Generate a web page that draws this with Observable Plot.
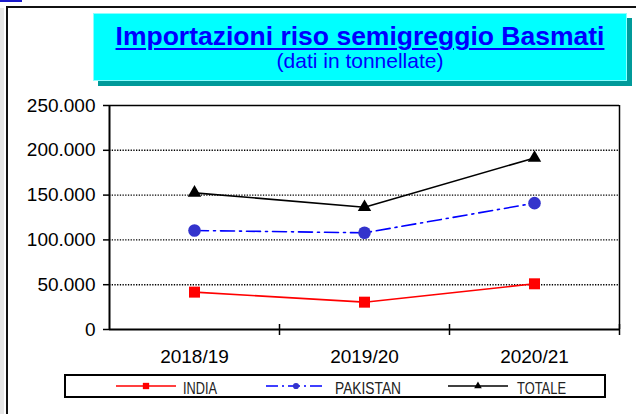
<!DOCTYPE html>
<html>
<head>
<meta charset="utf-8">
<script src="https://cdn.jsdelivr.net/npm/d3@7"></script>
<script src="https://cdn.jsdelivr.net/npm/@observablehq/plot@0.6"></script>
<style>
  html, body { margin: 0; padding: 0; background: #fff; }
  #wrap { position: relative; width: 636px; height: 414px; overflow: hidden; font-family: Arial, "Liberation Sans", sans-serif; }
  #frame { position: absolute; left: 6px; top: 6px; width: 700px; height: 500px; border-left: 2px solid #111; border-top: 2px solid #111; }
  #strip { position: absolute; left: 0; top: 8px; width: 4px; height: 420px; background: #e6e6e6; }
  #link { position: absolute; left: 0; top: 0; width: 22px; height: 2px; background: #1a1acc; }
  #titlebox { position: absolute; left: 93px; top: 13px; width: 532px; height: 66px; background: #00ffff; border: 1px solid #8affff; box-shadow: 5px 5px 0 #009a9a; text-align: center; color: #0000ff; }
  #title { position: absolute; left: 0; right: 0; top: 7px; font-size: 26.5px; font-weight: bold; text-decoration: underline; text-decoration-thickness: 2px; text-underline-offset: 3px; line-height: 30px; white-space: nowrap; }
  #subtitle { position: absolute; left: 0; right: 0; top: 35px; font-size: 21px; line-height: 24px; white-space: nowrap; }
  #chart { position: absolute; left: 0; top: 0; }
  #legend { position: absolute; left: 0; top: 0; }
</style>
</head>
<body>
<div id="wrap">
  <div id="strip"></div>
  <div id="link"></div>
  <div id="frame"></div>
  <div id="titlebox">
    <div id="title">Importazioni riso semigreggio Basmati</div>
    <div id="subtitle">(dati in tonnellate)</div>
  </div>
  <div id="chart"></div>
  <div id="legend"></div>
</div>
<script>
const categories = ["2018/19", "2019/20", "2020/21"];
const india = [41700, 30500, 51000];
const pakistan = [110500, 107900, 141000];
const totale = [152500, 136500, 191500];
const seriesNames = ["INDIA", "PAKISTAN", "TOTALE"];
const lineColors = ["#ff0000", "#0000ff", "#000000"];
const markerColors = ["#ff0000", "#3333cc", "#000000"];
const markerSymbols = ["square", "circle", "triangle"];
const lineDashes = [null, "14,5,2,5", null];
const legendDashes = [null, "12,4,2,4", null];
const yTicks = [0, 50000, 100000, 150000, 200000, 250000];
const gridTicks = [50000, 100000, 150000, 200000];

const seriesValues = [india, pakistan, totale];
const locale = d3.formatLocale({decimal: ",", thousands: ".", grouping: [3], currency: ["", " €"]});
const fmt = locale.format(",d");
const catIdx = categories.map((_, i) => i);
const bounds = categories.map((_, i) => i + 0.5);

const rows = seriesNames.map((s, k) => categories.map((c, i) => ({series: s, k, i, value: seriesValues[k][i]})));
const markerR = [6.2, 6.3, 5.0];

const marks = [
  Plot.ruleY(gridTicks, {stroke: "#000", strokeWidth: 1.4, strokeDasharray: "1.3,1.4"}),
  Plot.ruleY([d3.max(yTicks)], {stroke: "#000", strokeWidth: 1.5}),
  Plot.ruleX([categories.length - 0.5], {stroke: "#000", strokeWidth: 1.5}),
  Plot.ruleX([-0.5], {stroke: "#000", strokeWidth: 2}),
  Plot.ruleY([0], {stroke: "#000", strokeWidth: 2.2}),
  Plot.axisY(yTicks, {label: null, tickSize: 6, tickPadding: 8, tickFormat: fmt, fontSize: 19, stroke: "#000", strokeWidth: 1.5}),
  Plot.axisX(catIdx, {label: null, tickSize: 0, tickPadding: 20, tickFormat: i => categories[i], fontSize: 19}),
  Plot.axisX(bounds, {label: null, tickSize: 11, dy: -5, tickFormat: () => "", stroke: "#000", strokeWidth: 1.5})
];
rows.forEach((data, k) => {
  marks.push(Plot.line(data, {x: "i", y: "value", stroke: lineColors[k], strokeWidth: 1.6, strokeDasharray: lineDashes[k]}));
});
rows.forEach((data, k) => {
  marks.push(Plot.dot(data, {x: "i", y: "value", symbol: markerSymbols[k], fill: markerColors[k], r: markerR[k], stroke: null}));
});

const chart = Plot.plot({
  width: 636,
  height: 414,
  marginTop: 105,
  marginLeft: 109,
  marginRight: 17,
  marginBottom: 85,
  style: {fontFamily: 'Arial, "Liberation Sans", sans-serif', fontSize: "19px", color: "#000", background: "transparent"},
  x: {type: "linear", domain: [-0.5, categories.length - 0.5], axis: null, label: null},
  y: {domain: [0, d3.max(yTicks)], axis: null, label: null},
  marks
});
document.getElementById("chart").appendChild(chart);

// legend
const lg = d3.select("#legend").append("svg").attr("width", 636).attr("height", 414);
lg.append("rect").attr("x", 65).attr("y", 375).attr("width", 540).attr("height", 22)
  .attr("fill", "#fff").attr("stroke", "#000").attr("stroke-width", 2);
const itemX = [116, 266, 448];
const textX = [183, 335, 517];
const textW = [34, 66, 49];
const symSize = [40, 30, 25];
seriesNames.forEach((name, k) => {
  const g = lg.append("g");
  g.append("line").attr("x1", itemX[k]).attr("x2", itemX[k] + 60).attr("y1", 386).attr("y2", 386)
    .attr("stroke", lineColors[k]).attr("stroke-width", 1.6).attr("stroke-dasharray", legendDashes[k]);
  const sym = d3.symbol(d3["symbol" + markerSymbols[k][0].toUpperCase() + markerSymbols[k].slice(1)], symSize[k]);
  g.append("path").attr("d", sym()).attr("transform", `translate(${itemX[k] + 30},386)`).attr("fill", markerColors[k]);
  g.append("text").attr("x", textX[k]).attr("y", 394).attr("font-size", 17)
    .attr("font-family", 'Arial, "Liberation Sans", sans-serif').attr("fill", "#222")
    .attr("textLength", textW[k]).attr("lengthAdjust", "spacingAndGlyphs").text(name);
});
</script>
</body>
</html>
